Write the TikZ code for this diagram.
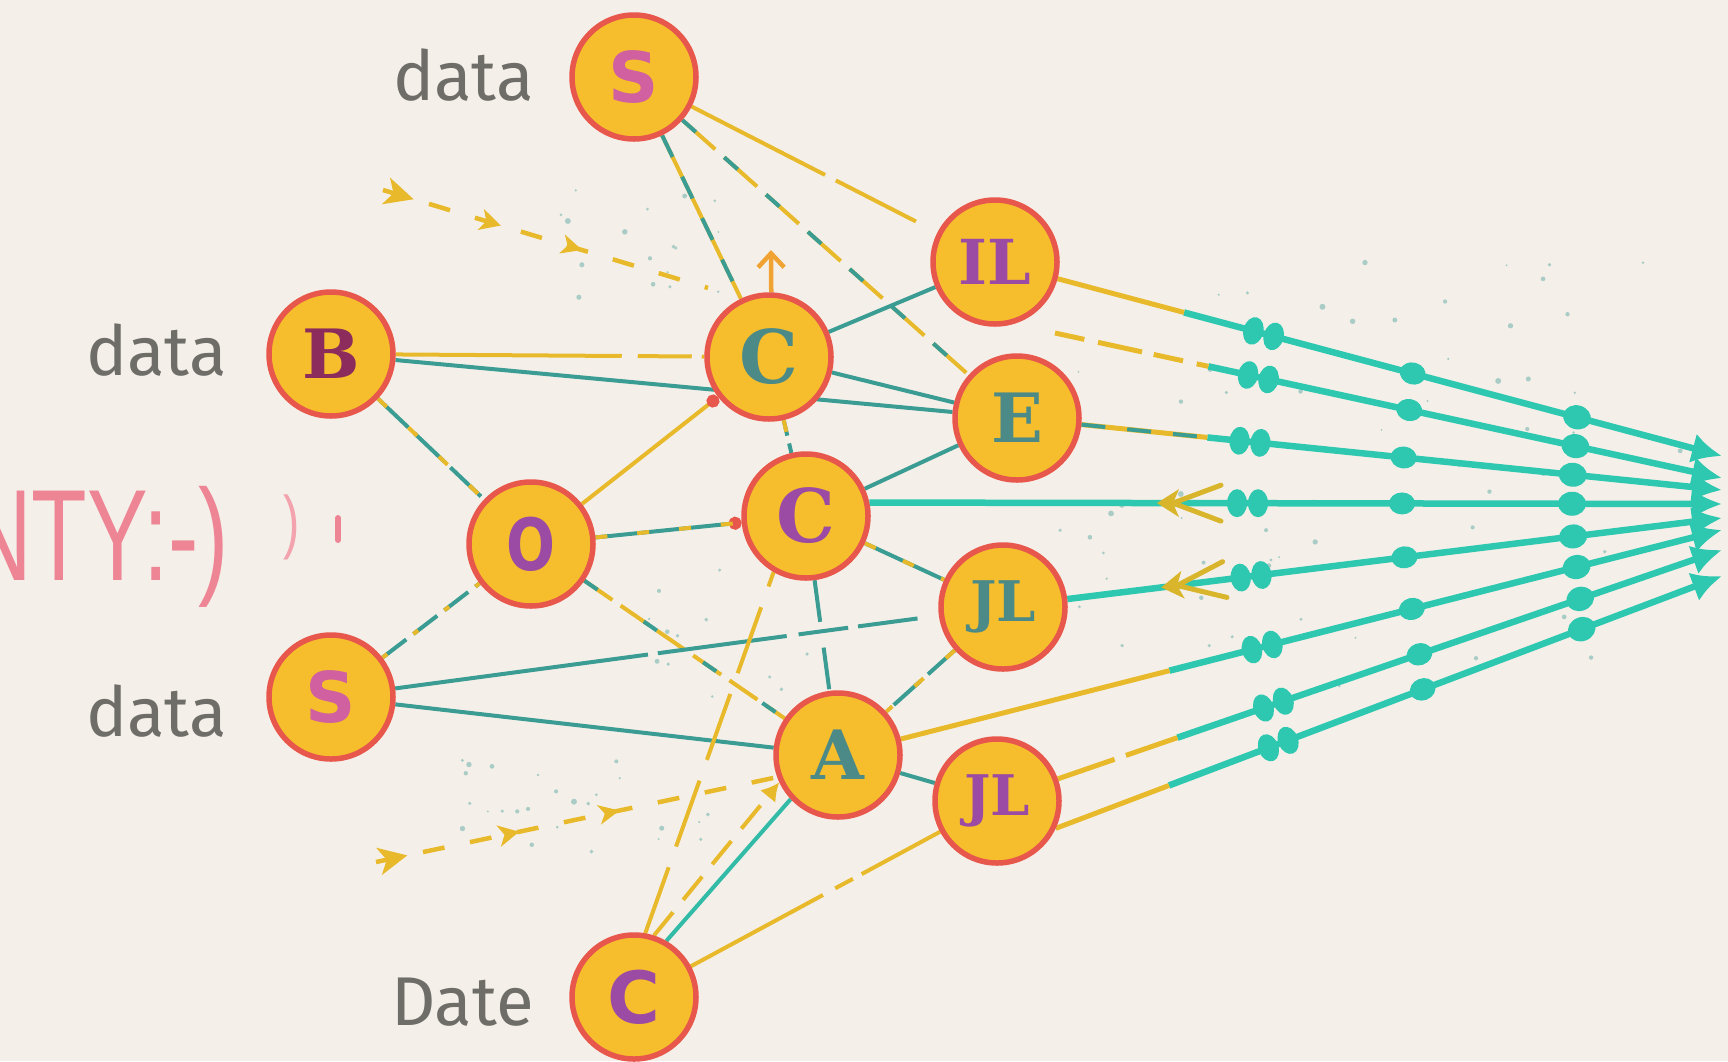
\documentclass[tikz,border=0pt]{standalone}
\usepackage{fontspec}
\usetikzlibrary{arrows.meta,decorations.markings,calc}
\setmainfont{Fira Sans}
\newfontfamily\lblfont{Fira Sans}
\newfontfamily\sansB{DejaVu Sans}
\newfontfamily\slabB{DejaVu Serif}
\newfontfamily\narrowfont[FakeStretch=0.7]{Liberation Sans}
\definecolor{bgc}{HTML}{F4F0E9}
\definecolor{nfill}{HTML}{F6BE2C}
\definecolor{nrim}{HTML}{E8574C}
\definecolor{yel}{HTML}{E9B92C}
\definecolor{tl}{HTML}{3A9C92}
\definecolor{turq}{HTML}{2EC8B0}
\definecolor{gtext}{HTML}{6E6D68}
\definecolor{pinkt}{HTML}{EE8595}
\definecolor{pinkl}{HTML}{F2A3AE}
\definecolor{orng}{HTML}{F0A232}
\definecolor{pk}{HTML}{D0609F}
\definecolor{mar}{HTML}{8C2C5C}
\definecolor{pur}{HTML}{9B4BA3}
\definecolor{tc}{HTML}{4C8A88}
\definecolor{dotc}{HTML}{A9CCC6}
\definecolor{chevc}{HTML}{D9B52C}
\pgfdeclarelayer{bg}\pgfdeclarelayer{edges}\pgfsetlayers{bg,edges,main}
\tikzset{
 nd/.style={circle, fill=nfill, draw=nrim, line width=5.5pt, minimum size=124pt, inner sep=0pt},
 ls/.style={font=\sansB\bfseries\fontsize{#1}{#1}\selectfont},
 lr/.style={font=\slabB\bfseries\fontsize{#1}{#1}\selectfont},
 lab/.style={font=\lblfont\fontsize{69}{69}\selectfont, text=gtext, anchor=base east, inner sep=0pt},
 tline/.style={draw=tl, line width=4pt},
 yline/.style={draw=yel, line width=4pt},
 mixA/.style={draw=yel, line width=4pt, postaction={draw=tl, line width=4pt, arrows=-, dash pattern=on 24pt off 22pt}},
 mixB/.style={draw=tl, line width=4pt, postaction={draw=yel, line width=4pt, arrows=-, dash pattern=on 12pt off 30pt}},
 bead/.style={fill=turq},
 fan/.style={draw=turq, line width=6.5pt, -{Latex[length=30pt,width=30pt]}, postaction={decorate},
   decoration={markings,
     mark=at position -475pt with {\fill[bead] (-10,0) ellipse [x radius=10pt, y radius=14pt] (11,0) ellipse [x radius=10pt, y radius=14pt];},
     mark=at position -320pt with {\fill[bead] (0,0) ellipse [x radius=13pt, y radius=11pt];},
     mark=at position -150pt with {\fill[bead] (0,0) ellipse [x radius=14pt, y radius=12pt];}}},
 chevs/.style={postaction={decorate}, decoration={markings, mark=at position #1 with {
     \fill[chevc] (0,0) -- (22,-14) -- (16,0) -- (22,14) -- cycle;
     \draw[chevc, line width=5pt, line cap=round] (16,0) -- (64,-18) (16,0) -- (64,18);}}},
 darrow/.style={draw=yel, line width=4.5pt, dash pattern=on 22pt off 26pt, postaction={decorate},
   decoration={markings,
     mark=at position 16pt with {\fill[yel] (16,0) -- (-13,-14) -- (-5,0) -- (-13,14) -- cycle;},
     mark=at position 0.33 with {\fill[yel] (11,0) -- (-10,-11) -- (-4,0) -- (-10,11) -- cycle;},
     mark=at position 0.58 with {\fill[yel] (11,0) -- (-10,-10) -- (-4,0) -- (-10,10) -- cycle;}}},
}
\begin{document}
\begin{tikzpicture}[x=1pt, y=-1pt, line cap=round]
\useasboundingbox (0,0) rectangle (1728,1061);
\begin{pgfonlayer}{bg}
\fill[bgc] (0,0) rectangle (1728,1061);
\end{pgfonlayer}

% nodes
\node[nd, ls=70, text=pk] (sT) at (634,77) {S};
\node[nd, lr=68, text=mar] (nB) at (331,354) {B};
\node[nd, ls=72, text=pur] (nO) at (531,544) {\scalebox{0.8}[1]{O}};
\node[nd, ls=70, text=pk] (sB) at (331,697) {S};
\node[nd, lr=74, text=tc] (cU) at (769,357) {C};
\node[nd, lr=74, text=pur] (cM) at (806,516) {C};
\node[nd, lr=62, text=pur] (nII) at (995,262) {IL};
\node[nd, lr=68, text=tc] (nE) at (1017,418) {E};
\node[nd, lr=56, text=tc] (jU) at (1003,607) {JL};
\node[nd, lr=68, text=tc] (nA) at (838,755) {A};
\node[nd, lr=56, text=pur] (jL) at (997,801) {JL};
\node[nd, ls=72, text=pur] (cB) at (634,997) {C};

% labels
\node[lab] (l1) at (534,100) {data};
\node[lab] (l2) at (227,375) {data};
\node[lab] (l3) at (227,736) {data};
\node[lab] (l4) at (534,1025) {Date};

\begin{scope}
\clip (0,0) rectangle (1728,1061);
\node[anchor=base west, inner sep=0pt, text=pinkt, font=\narrowfont\fontsize{130}{130}\selectfont] (pinktext) at (-34,580) {NTY:-)};
\node[anchor=base, inner sep=0pt, text=pinkl, font=\narrowfont\fontsize{70}{70}\selectfont] (paren) at (292,545) {)};
\draw[pinkt, line width=6pt] (338,518) -- (338,540);
\end{scope}

% coordinates
\coordinate (ea) at (1722,456);
\coordinate (eb) at (1722,478);
\coordinate (ec) at (1722,490);
\coordinate (ed) at (1722,504);
\coordinate (ee) at (1722,518);
\coordinate (ef) at (1722,530);
\coordinate (eg) at (1722,550);
\coordinate (eh) at (1722,576);
\coordinate (sb0) at (1055,333);
\coordinate (ya) at ($(nII)!0.26!(ea)$);
\coordinate (yb) at ($(sb0)!0.23!(eb)$);
\coordinate (yc) at ($(nE)!0.27!(ec)$);
\coordinate (yf) at ($(nA)!0.375!(ef)$);
\coordinate (yg) at ($(jL.20)!0.18!(eg)$);
\coordinate (yh) at ($(jL.-25)!0.17!(eh)$);
\coordinate (tlA) at (383,190);
\coordinate (tlB) at (708,288);
\coordinate (blA) at (376,862);
\coordinate (cUup) at (771,250);

\begin{pgfonlayer}{edges}
% scattered dots
\pgfmathsetseed{11}
\foreach \i in {1,...,70} {\fill[dotc] ({1050+650*rnd},{260+430*rnd}) circle [radius={1+2*rnd}];}
\foreach \i in {1,...,18} {\fill[dotc] ({560+160*rnd},{190+110*rnd}) circle [radius={1+2*rnd}];}
\foreach \i in {1,...,25} {\fill[dotc] ({460+260*rnd},{760+100*rnd}) circle [radius={1+2*rnd}];}
\foreach \i in {1,...,14} {\fill[dotc] ({620+200*rnd},{560+140*rnd}) circle [radius={1+1.5*rnd}];}

% inner connectors
\draw[yline, dash pattern=on 150pt off 12pt on 90pt] (sT) -- (nII);
\draw[mixA] (sT) -- (cU);
\draw[draw=yel, line width=4pt, dash pattern=on 44pt off 12pt, postaction={draw=tl, line width=4pt, dash pattern=on 18pt off 38pt}] (sT) -- (nE);
\draw[yline, dash pattern=on 226pt off 16pt on 54pt off 10pt on 40pt] (nB) -- (cU);
\draw[tline] (nB) -- (nE);
\draw[mixB, dash pattern=on 42pt off 8pt] (nB) -- (nO);
\draw[yline, -{Circle[length=13pt,color=nrim]}] (nO) -- (cU);
\draw[mixB, -{Circle[length=13pt,color=nrim]}] (nO) -- (cM);
\draw[draw=yel, line width=4pt, dash pattern=on 34pt off 10pt, postaction={draw=tl, line width=4pt, dash pattern=on 16pt off 56pt}] (nO) -- (nA);
\draw[tline, dash pattern=on 30pt off 9pt, postaction={draw=yel, line width=4pt, dash pattern=on 6pt off 33pt}] (sB) -- (nO);
\draw[tline, dash pattern=on 255pt off 10pt on 130pt off 12pt on 50pt off 10pt on 60pt] (sB) -- (jU);
\draw[tline] (sB) -- (nA);
\draw[mixB, dash pattern=on 16pt off 8pt] (cU) -- (cM);
\draw[tline] (cU) -- (nE);
\draw[tline] (cU) -- (nII);
\draw[tline] (cM) -- (nE);
\draw[mixB] (cM) -- (jU);
\draw[tline, dash pattern=on 42pt off 26pt] (cM) -- (nA);
\draw[mixB, dash pattern=on 36pt off 10pt] (jU) -- (nA);
\draw[tline] (nA) -- (jL);
\draw[yline, dash pattern=on 70pt off 22pt] (cB.80) -- (cM.240);
\draw[yline, dash pattern=on 30pt off 16pt, -{Latex[length=18pt,width=20pt]}] (cB.72) -- (nA.205);
\draw[draw=turq!70!tl, line width=4pt] (cB.60) -- (nA.223);
\draw[yline, dash pattern=on 150pt off 14pt on 20pt off 10pt] (cB) -- (jL);

% free dashed arrows
\draw[darrow] (tlA) -- (tlB);
\draw[darrow] (blA) -- (nA.200);
\draw[orng, line width=4.5pt, -{Straight Barb[length=14pt,width=26pt]}] (cU.88) -- (cUup);

% fan
\draw[fan] (ya) -- (ea);
\draw[yline, line width=5pt] (nII) -- (ya);
\draw[fan] (yb) -- (eb);
\draw[yline, line width=5pt, dash pattern=on 30pt off 14pt on 45pt off 12pt] (sb0) -- (yb);
\draw[fan] (yc) -- (ec);
\draw[mixA, line width=5pt] (nE) -- (yc);
\draw[fan] (cM.12) -- (ed);
\path[chevs=-565pt] (cM.12) -- (ed);
\draw[fan] (jU) -- (ee);
\path[chevs=-565pt] (jU) -- (ee);
\draw[fan] (yf) -- (ef);
\draw[yline, line width=5pt] (nA) -- (yf);
\draw[fan] (yg) -- (eg);
\draw[yline, line width=5pt, dash pattern=on 60pt off 12pt] (jL.20) -- (yg);
\draw[fan] (yh) -- (eh);
\draw[yline, line width=5pt] (jL.-25) -- (yh);
\end{pgfonlayer}
\end{tikzpicture}
\end{document}
